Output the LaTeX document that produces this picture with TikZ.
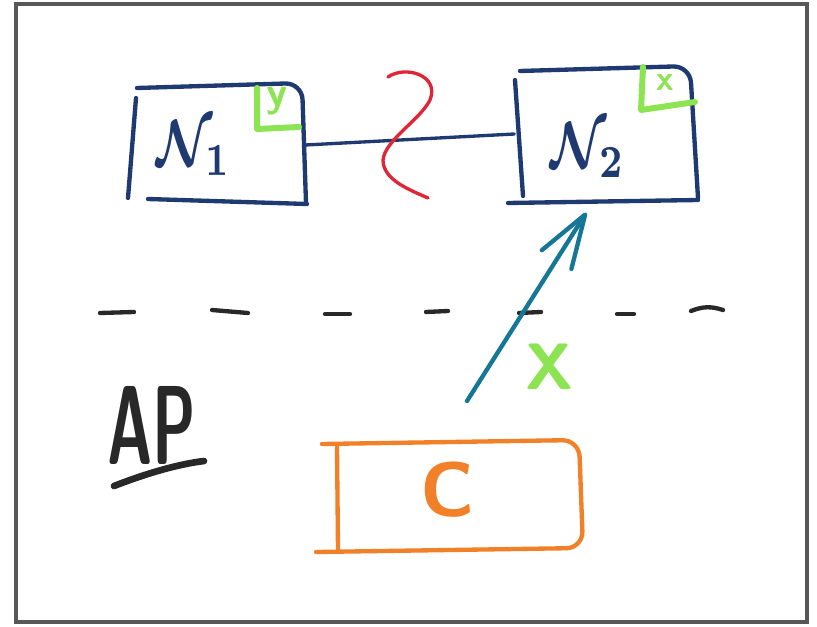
\documentclass[tikz,border=0pt]{standalone}
\usepackage{fontspec}
\usetikzlibrary{arrows.meta}

\definecolor{inkblue}{RGB}{30,58,112}
\definecolor{markgreen}{RGB}{140,228,82}
\definecolor{cutred}{RGB}{224,38,52}
\definecolor{msgteal}{RGB}{22,118,150}
\definecolor{clientorange}{RGB}{242,128,40}
\definecolor{framegray}{RGB}{88,88,88}
\definecolor{chalk}{RGB}{40,40,40}

\begin{document}
\begin{tikzpicture}[x=0.03cm, y=-0.03cm,
    pen/.style={line width=0.13cm, line cap=round, line join=round},
    box/.style={inner sep=0pt, outer sep=0pt},
    tick/.style={line width=0.18cm, line cap=round, line join=round, markgreen},
    tag/.style={text=markgreen, font=\sffamily\bfseries\fontsize{36}{36}\selectfont}]
      \useasboundingbox (0,0) rectangle (817,627);
      \draw[line width=0.12cm, framegray] (16,4) rectangle (807,622);

      % the two nodes and the client
      \node[box, minimum width=5.3cm, minimum height=3.5cm] (n1) at (217,145) {};
      \node[box, minimum width=5.5cm, minimum height=3.96cm] (n2) at (606,134) {};
      \node[box, minimum width=7.9cm, minimum height=3.2cm] (c) at (450,497) {};

      \draw[pen, inkblue] (136,98) -- (128,198);
      \draw[pen, inkblue, rounded corners=0.5cm] (137,88) -- (302,83) -- (306,203);
      \draw[pen, inkblue] (148,199) -- (307,204);
      \draw[tick] (257,88) -- (257,129) -- (299,127);

      \draw[pen, inkblue] (515,80) -- (523,196);
      \draw[pen, inkblue, rounded corners=0.5cm] (520,71) -- (690,66) -- (698,198);
      \draw[pen, inkblue] (508,203) -- (698,200);
      \draw[tick] (643,67) -- (641,110) -- (695,102);

      \draw[pen, clientorange, rounded corners=0.5cm] (322,444) -- (579,440) -- (583,548) -- (316,552);
      \draw[pen, clientorange] (337,447) -- (338,550);

      \node[text=inkblue, xscale=4.4, yscale=5.6, font=\boldmath] (n1lbl) at (194,148) {$\mathcal{N}_1$};
      \node[text=inkblue, xscale=4.4, yscale=5.6, font=\boldmath] (n2lbl) at (588,150) {$\mathcal{N}_2$};
      \node[text=clientorange, font=\sffamily\bfseries\fontsize{66}{66}\selectfont] (clbl) at (448,490) {C};
      \node[tag] (ylbl) at (277,101) {y};
      \node[tag, font=\sffamily\bfseries\fontsize{30}{30}\selectfont] (xlbl) at (665,82) {x};

      % link and partition
      \draw[pen, inkblue, line width=0.1cm] (n1.east) -- (n2.west);
      \draw[line width=0.1cm, line cap=round, cutred] (388,77) .. controls (405,65) and (440,75) .. (430,100) .. controls (420,120) and (385,140) .. (383,160) .. controls (383,180) and (410,190) .. (428,198);

      % dashed divide
      \draw[pen, chalk] (100,313) -- (134,312); \draw[pen, chalk] (212,310) -- (248,313); \draw[pen, chalk] (325,314) -- (350,314);
      \draw[pen, chalk] (426,312) -- (448,311); \draw[pen, chalk] (519,313) -- (541,312); \draw[pen, chalk] (617,314) -- (634,314);
      \draw[pen, chalk] (691,311) to[bend left=20] (723,310);

      % write from the client
      \coordinate (cq) at (467,401);
      \draw[pen, msgteal, line width=0.13cm, shorten >=0.45cm, -{Straight Barb[length=1.6cm, width=1.05cm, round]}] (cq) -- (n2.-100);
      \node[text=markgreen, font=\sffamily\bfseries\fontsize{56}{56}\selectfont] (xmsg) at (550,367) {X};

      \node[text=chalk, xscale=0.55, font=\sffamily\bfseries\fontsize{96}{96}\selectfont] (aplbl) at (152,425) {AP};
      \draw[line width=0.2cm, line cap=round, chalk] (114,486) .. controls (150,472) and (180,464) .. (204,461);
    \end{tikzpicture}
\end{document}
